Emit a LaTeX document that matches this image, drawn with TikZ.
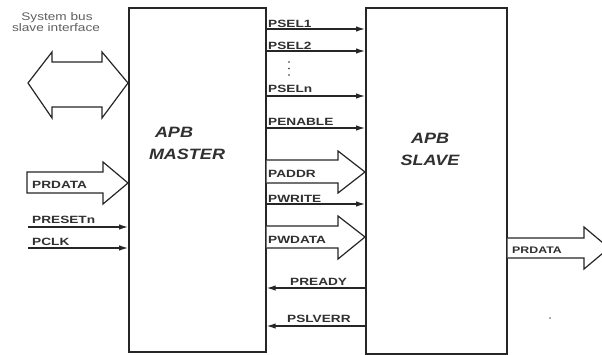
\documentclass[tikz,border=0pt]{standalone}
\usepackage{fontspec}
\usepackage{graphicx}
\setmainfont{Liberation Sans}
\usetikzlibrary{arrows.meta}
\definecolor{ink}{HTML}{262626}
\definecolor{txt}{HTML}{303030}
\definecolor{softtxt}{HTML}{606060}
\newcommand{\wlab}[1]{\scalebox{1.3}[1]{#1}}
\newcommand{\wtitle}[1]{\scalebox{1.2}[1]{#1}}
\tikzset{
  blockbox/.style={draw=ink, line width=1.7pt, fill=none, inner sep=0pt, anchor=north west},
  sig/.style={draw=ink, line width=1.2pt, -{Latex[length=9pt,width=5.5pt]}},
  busarrow/.style={draw=ink, line width=1.2pt, line join=miter, fill=white},
  siglabel/.style={font=\fontsize{10.5}{12}\selectfont\bfseries, text=txt, inner sep=0pt, anchor=base west},
  titlelabel/.style={font=\fontsize{15}{18}\selectfont\bfseries\itshape, text=txt, inner sep=0pt, anchor=base},
  notelabel/.style={font=\fontsize{11}{13}\selectfont, text=softtxt, inner sep=0pt, anchor=base}
}
\begin{document}
\begin{tikzpicture}[x=1pt,y=-1pt]
\useasboundingbox (0,0) rectangle (602,354);
\clip (0,0) rectangle (602,354);
\fill[white] (0,0) rectangle (602,354);

% blocks
\node[blockbox, minimum width=137pt, minimum height=344pt] (m) at (128,7) {};
\node[blockbox, minimum width=141pt, minimum height=346pt] (s) at (365,7) {};

\node[titlelabel] (mt1) at (174,137) {\wtitle{APB}};
\node[titlelabel] (mt2) at (187,159) {\wtitle{MASTER}};
\node[titlelabel] (st1) at (430,143) {\wtitle{APB}};
\node[titlelabel] (st2) at (430,165) {\wtitle{SLAVE}};

% system bus
\node[notelabel] (sb1) at (57,20) {\scalebox{1.24}[1]{System bus}};
\node[notelabel] (sb2) at (56,31.5) {\scalebox{1.24}[1]{slave interface}};
\draw[busarrow] (28,83) -- (52,52) -- (52,62) -- (102,62) -- (102,52) -- (m.west |- 0,83)
  -- (102,118) -- (102,107) -- (52,107) -- (52,118) -- cycle;

% left inputs
\draw[busarrow] (27,172) -- (103,172) -- (103,162) -- (m.west |- 0,183) -- (103,204) -- (103,193) -- (27,193) -- cycle;
\node[siglabel] (lprdata) at (32,188) {\wlab{PRDATA}};
\coordinate (rst) at (28,227);
\coordinate (clk) at (28,248);
\draw[sig] (rst) -- (m.west |- rst);
\draw[sig] (clk) -- (m.west |- clk);
\node[siglabel] (lrst) at (32,223) {\wlab{PRESETn}};
\node[siglabel] (lclk) at (32,245) {\wlab{PCLK}};

% master -> slave
\draw[sig] (m.east |- 0,29) -- (s.west |- 0,29);
\draw[sig] (m.east |- 0,51) -- (s.west |- 0,51);
\draw[sig] (m.east |- 0,96) -- (s.west |- 0,96);
\draw[sig] (m.east |- 0,128) -- (s.west |- 0,128);
\draw[sig] (m.east |- 0,204) -- (s.west |- 0,204);
\node[siglabel] (l1) at (268,27) {\wlab{PSEL1}};
\node[siglabel] (l2) at (268,49) {\wlab{PSEL2}};
\node[siglabel] (ln) at (268,92) {\wlab{PSELn}};
\node[siglabel] (len) at (268,125.5) {\wlab{PENABLE}};
\node[siglabel] (lwr) at (268,202) {\wlab{PWRITE}};
\foreach \yy in {62,68.5,75} \fill[txt] (289,\yy) circle (0.9pt);

\draw[busarrow] (m.east |- 0,160) -- (338,160) -- (338,151) -- (s.west |- 0,172) -- (338,193) -- (338,183) -- (m.east |- 0,183);
\node[siglabel] (lad) at (268,177) {\wlab{PADDR}};
\draw[busarrow] (m.east |- 0,226) -- (338,226) -- (338,216) -- (s.west |- 0,237) -- (338,259) -- (338,248) -- (m.east |- 0,248);
\node[siglabel] (lwd) at (268,243) {\wlab{PWDATA}};

% slave -> master
\draw[sig] (s.west |- 0,288) -- (m.east |- 0,288);
\draw[sig] (s.west |- 0,326) -- (m.east |- 0,326);
\node[siglabel] (lrdy) at (290,285) {\wlab{PREADY}};
\node[siglabel] (lerr) at (287,322) {\wlab{PSLVERR}};

% slave output
\draw[busarrow] (s.east |- 0,238) -- (584,238) -- (584,227) -- (609,248) -- (584,269) -- (584,258) -- (s.east |- 0,258);
\node[siglabel, font=\fontsize{9.5}{11}\selectfont\bfseries] (rprdata) at (512,253) {\wlab{PRDATA}};
\fill[softtxt] (550,318) circle (0.8pt);
\end{tikzpicture}
\end{document}
